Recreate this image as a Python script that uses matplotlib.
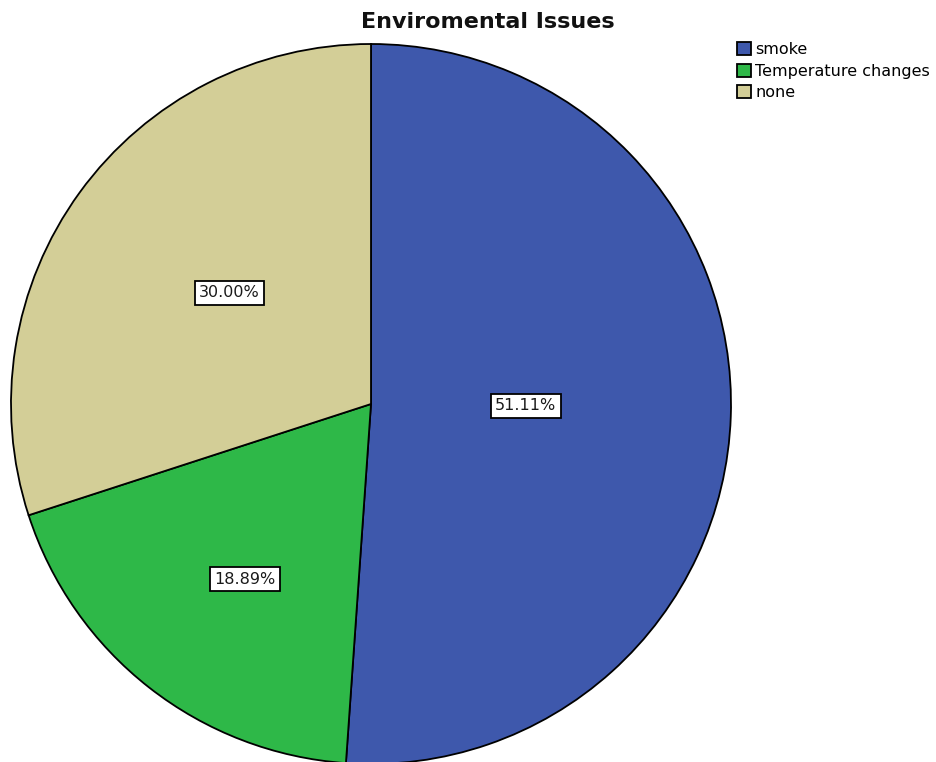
import numpy as np
import matplotlib
matplotlib.use("Agg")
import matplotlib.pyplot as plt

# Survey responses: main environmental issue
categories = ["smoke", "Temperature changes", "none"]
percentages = [51.11, 18.89, 30.00]
colors = ["#3E58AC", "#2EB848", "#D3CE97"]

W, H = 936, 762
fig = plt.figure(figsize=(W / 100, H / 100), dpi=100)
ax = fig.add_axes([0, 0, 1, 1])

# pie geometry in pixel units (y measured upward)
cx, cy, R = 371, H - 404, 360
wedges, _ = ax.pie(
    percentages,
    colors=colors,
    startangle=90,
    counterclock=False,
    center=(cx, cy),
    radius=R,
    wedgeprops=dict(edgecolor="black", linewidth=1.3),
)
ax.set_xlim(0, W)
ax.set_ylim(0, H)
ax.set_aspect("equal")
ax.axis("off")

# percentage labels placed near each wedge's bisector
label_dist = [0.43, 0.60, 0.50]
label_turn = [1.3, 2.2, -2.2]
for w, pct, d, t in zip(wedges, percentages, label_dist, label_turn):
    mid = np.deg2rad((w.theta1 + w.theta2) / 2 + t)
    x = cx + d * R * np.cos(mid)
    y = cy + d * R * np.sin(mid)
    ax.text(x, y, f"{pct:.2f}%", ha="center", va="center", fontsize=11.5,
            color="#1a1a1a",
            bbox=dict(boxstyle="square,pad=0.28", fc="white", ec="black", lw=1.3))

fig.text(488 / W, 1 - 22 / H, "Enviromental Issues", ha="center", va="center",
         fontsize=16, fontweight="bold", color="#111111")

fig.legend(wedges, categories, loc="upper left",
           bbox_to_anchor=(737 / W, 1 - 42 / H), frameon=False,
           fontsize=11.5, handlelength=0.85, handleheight=0.9,
           handletextpad=0.3, labelspacing=0.4, borderpad=0, borderaxespad=0)

fig.savefig("out.png", dpi=100)
